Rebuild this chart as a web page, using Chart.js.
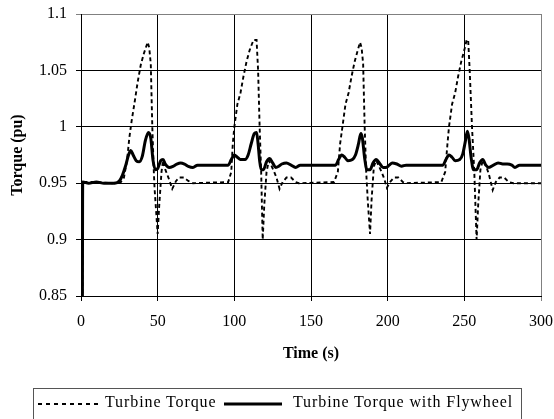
<!DOCTYPE html>
<html>
<head>
<meta charset="utf-8">
<script src="https://cdn.jsdelivr.net/npm/chart.js@4.4.1/dist/chart.umd.min.js"></script>
<style>
  html, body { margin: 0; padding: 0; background: #fff; }
  #wrap { position: relative; width: 554px; height: 419px; overflow: hidden; background: #fff; }
  #c { position: absolute; left: 0; top: 0; }
  #legend {
    position: absolute; left: 33px; top: 388px; width: 489px; height: 60px;
    border: 1px solid #555; box-sizing: border-box;
    font-family: "Liberation Serif", "Times New Roman", serif; font-size: 16px;
    letter-spacing: 0.9px; color: #000;
  }
  .item { position: absolute; top: 3px; white-space: nowrap; line-height: 20px; }
  .sample { position: absolute; top: 13px; }
</style>
</head>
<body>
<div id="wrap">
  <canvas id="c" width="554" height="419"></canvas>
  <div id="legend">
    <svg class="sample" style="left:4px" width="62" height="4"><line x1="0" y1="2" x2="62" y2="2" stroke="#000" stroke-width="1.8" stroke-dasharray="4,4"/></svg>
    <span class="item" style="left:71px">Turbine Torque</span>
    <svg class="sample" style="left:190px" width="58" height="4"><line x1="0" y1="2" x2="58" y2="2" stroke="#000" stroke-width="3"/></svg>
    <span class="item" style="left:259px">Turbine Torque with Flywheel</span>
  </div>
</div>
<script>
// ---- data ----
const turbineTime = [0.9,1.1,10,20,26,28,30,31.5,33,35,37,39,41,43.5,44.5,45.5,46.5,47.5,48,49,50,51,52.5,53.5,55,57,59.5,62,64,67,70,73,
  96,98,99,100,102,104,106,108,110,112.5,114.5,115.5,116.5,117.5,118.5,119.5,121,122.5,124,126,127.5,129.5,131.5,134,137,140,142,
  165,167.5,169,170.5,172.5,174.5,176.5,178.5,180.5,182,183,184,185,186,187,188.5,189.5,191,192.5,194,196,197.5,199.5,201.5,204,207,210,212,
  235,237.5,239,240,242,244,246,248,250,251.5,252.5,253.5,255,256.5,258,259,260.5,262,264,266,268.5,270.5,273,276,279,282,300];
const turbineTorque = [0.84,0.951,0.951,0.950,0.951,0.955,0.970,0.990,1.005,1.022,1.040,1.055,1.065,1.075,1.070,1.056,1.000,0.960,0.945,0.925,0.905,0.930,0.960,0.970,0.962,0.955,0.945,0.952,0.955,0.955,0.952,0.950,
  0.951,0.960,0.985,1.000,1.020,1.030,1.045,1.058,1.068,1.077,1.077,1.050,1.000,0.960,0.900,0.930,0.960,0.970,0.966,0.960,0.955,0.945,0.951,0.955,0.955,0.951,0.950,
  0.951,0.960,0.985,1.000,1.020,1.030,1.045,1.058,1.068,1.075,1.070,1.056,1.000,0.960,0.935,0.905,0.935,0.965,0.970,0.966,0.960,0.955,0.946,0.951,0.955,0.955,0.951,0.950,
  0.951,0.960,0.985,1.000,1.020,1.030,1.045,1.058,1.068,1.077,1.077,1.050,1.000,0.960,0.900,0.930,0.962,0.970,0.966,0.958,0.944,0.951,0.955,0.955,0.951,0.950,0.950];

const flywheelTime = [0.9,1.1,5,10,15,22,25,27,29,31,32.5,34,36,38,40,42,44,45.5,47,48.5,50,52,53.5,55,57.5,60,62.5,65,67.5,70,73,76,
  96,98,100,102,104,107,109,111,113,114.5,115.5,116.5,117.5,119,121,123,125,127,129,131,134,137,140,143,
  166,168,170,172,174,177,179,181,182.5,183.5,185,186.5,188.5,190.5,192.5,195,197,199,201,203,206,209,212,
  236,238,240,242,244,247,249,250.5,252,253,254.5,256,258,260,262,264,266,269,272,275,278,281,283,286,300];
const flywheelTorque = [0.84,0.951,0.950,0.951,0.950,0.950,0.952,0.957,0.965,0.975,0.979,0.975,0.970,0.969,0.974,0.988,0.995,0.990,0.970,0.962,0.963,0.970,0.971,0.967,0.964,0.965,0.967,0.968,0.967,0.965,0.964,0.966,
  0.966,0.971,0.975,0.973,0.971,0.971,0.975,0.985,0.994,0.995,0.985,0.970,0.962,0.962,0.969,0.972,0.968,0.964,0.965,0.967,0.968,0.966,0.964,0.966,
  0.966,0.971,0.975,0.973,0.970,0.971,0.975,0.985,0.994,0.990,0.972,0.962,0.962,0.968,0.971,0.967,0.964,0.964,0.966,0.968,0.967,0.965,0.966,
  0.966,0.971,0.975,0.973,0.970,0.971,0.976,0.986,0.996,0.990,0.972,0.962,0.962,0.968,0.971,0.966,0.964,0.966,0.968,0.967,0.967,0.966,0.964,0.966,0.966];

const xTicks = [0, 50, 100, 150, 200, 250, 300];
const yTicks = [0.85, 0.9, 0.95, 1, 1.05, 1.1];
const seriesNames = ["Turbine Torque", "Turbine Torque with Flywheel"];

const toPoints = (xs, ys) => xs.map((x, i) => ({ x: x, y: ys[i] }));
const serif = "'Liberation Serif', 'Times New Roman', serif";

new Chart(document.getElementById('c'), {
  type: 'line',
  data: {
    datasets: [
      {
        label: seriesNames[0],
        data: toPoints(turbineTime, turbineTorque),
        borderColor: '#000', borderWidth: 1.9, borderDash: [4, 3],
        pointRadius: 0, tension: 0, fill: false
      },
      {
        label: seriesNames[1],
        data: toPoints(flywheelTime, flywheelTorque),
        borderColor: '#000', borderWidth: 3, borderJoinStyle: 'round', borderCapStyle: 'round',
        pointRadius: 0, cubicInterpolationMode: 'monotone', fill: false
      }
    ]
  },
  options: {
    responsive: false,
    animation: false,
    events: [],
    layout: { padding: { top: 14, right: 13, bottom: 56, left: 0 } },
    plugins: { legend: { display: false }, tooltip: { enabled: false } },
    scales: {
      x: {
        type: 'linear', min: 0, max: 300,
        afterBuildTicks: s => { s.ticks = xTicks.map(v => ({ value: v })); },
        afterFit: s => { s.height = 67; s.paddingLeft = 0; s.paddingRight = 0; },
        ticks: { color: '#000', padding: 11, maxRotation: 0, font: { family: serif, size: 16 } },
        grid: { color: ctx => (ctx.tick && ctx.tick.value === 300) ? '#808080' : '#000', lineWidth: 1, tickLength: 5 },
        border: { display: true, color: '#000', width: 1 },
        title: { display: true, text: 'Time (s)', color: '#000', padding: { top: 0, bottom: 0 },
                 font: { family: serif, size: 16, weight: 'bold' } }
      },
      y: {
        type: 'linear', min: 0.85, max: 1.1,
        afterBuildTicks: s => { s.ticks = yTicks.map(v => ({ value: v })); },
        afterFit: s => { s.width = 81; s.paddingTop = 0; s.paddingBottom = 0; },
        ticks: { color: '#000', padding: 9, font: { family: serif, size: 16 },
                 callback: v => String(Number(v.toFixed(2))) },
        grid: { color: ctx => (ctx.tick && Math.abs(ctx.tick.value - 1.1) < 1e-9) ? '#808080' : '#000', lineWidth: 1, tickLength: 5 },
        border: { display: true, color: '#000', width: 1 },
        title: { display: true, text: 'Torque (pu)', color: '#000', padding: { top: 8, bottom: 0 },
                 font: { family: serif, size: 16, weight: 'bold' } }
      }
    }
  }
});
</script>
</body>
</html>
